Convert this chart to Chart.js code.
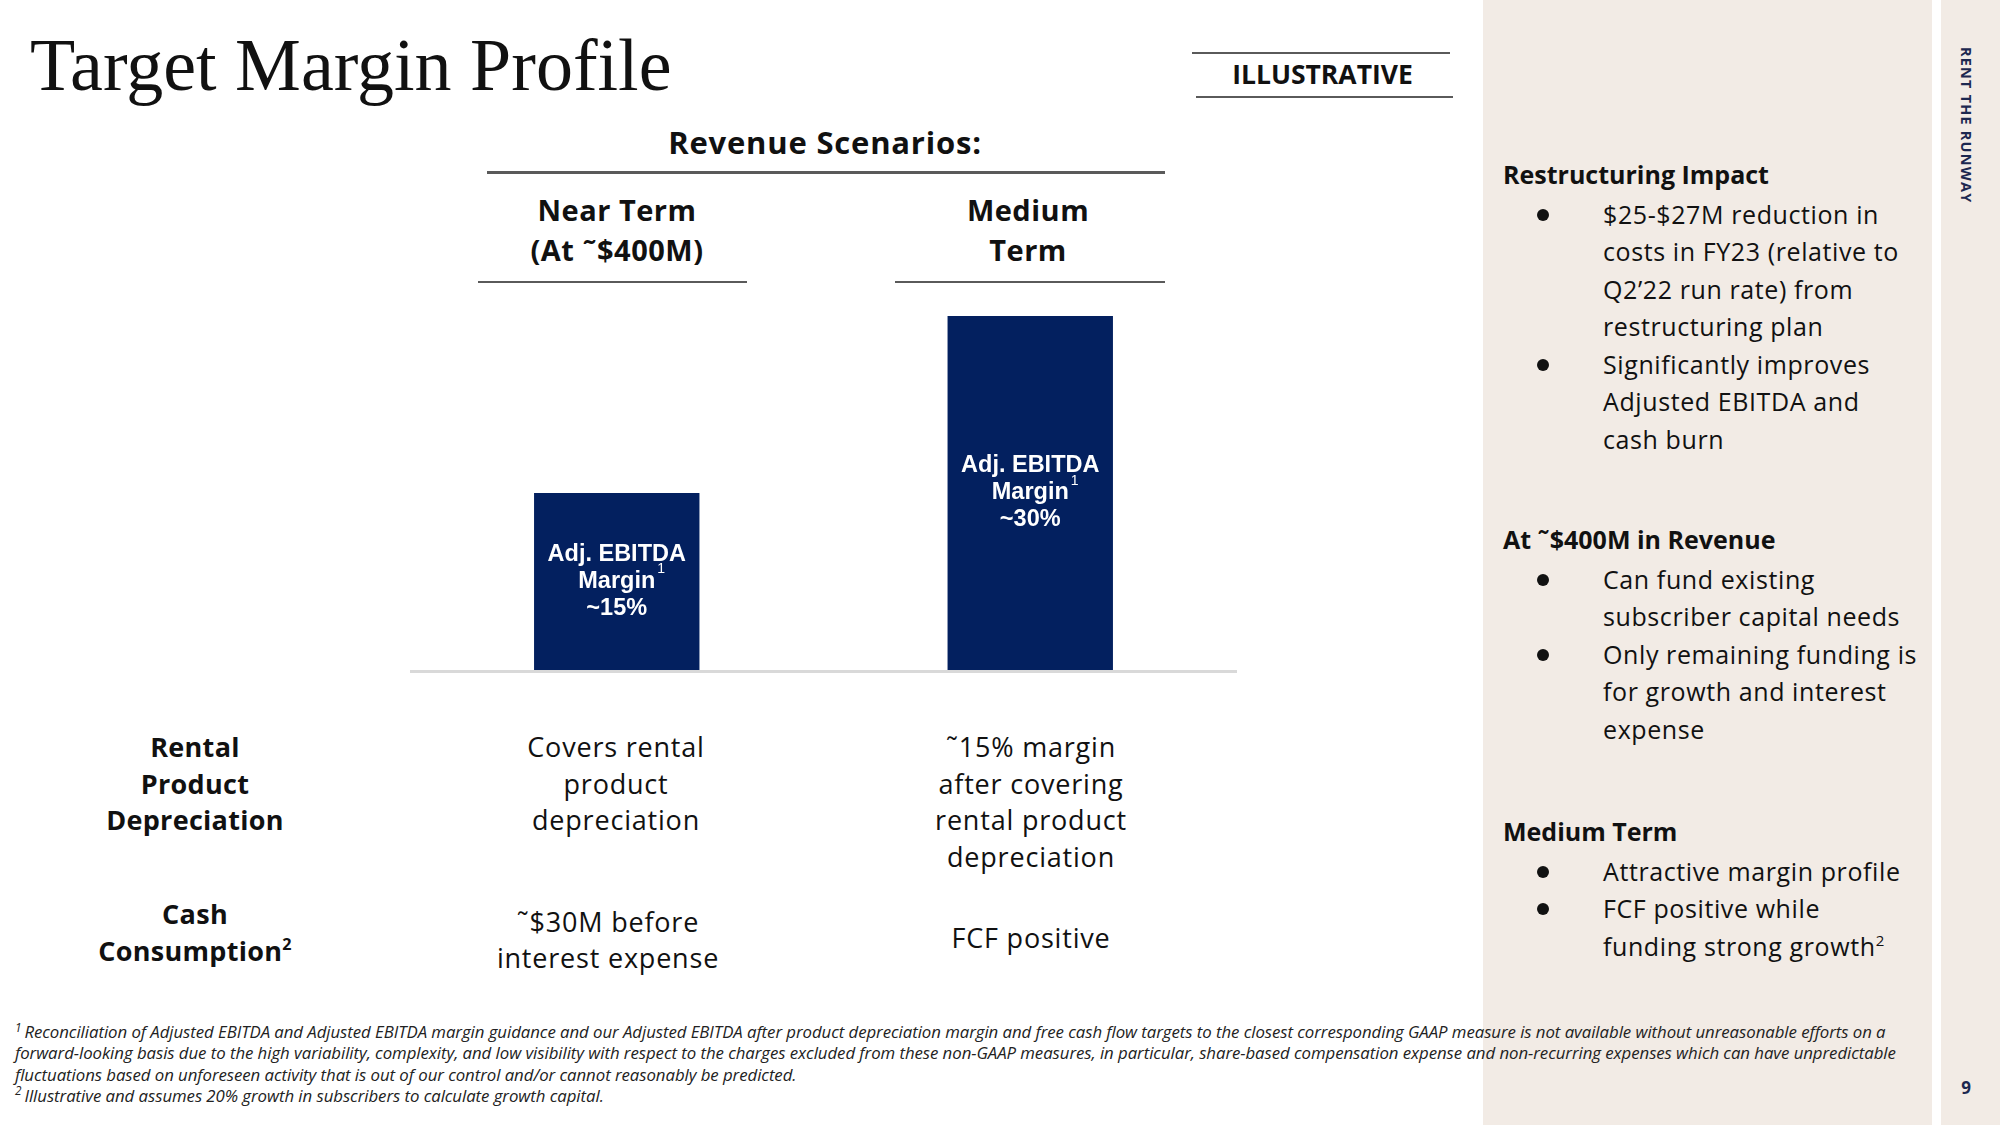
<!DOCTYPE html>
<html>
<head>
<meta charset="utf-8">
<script src="https://cdn.jsdelivr.net/npm/chart.js@4.4.1/dist/chart.umd.min.js"></script>
<style>
  html, body { margin:0; padding:0; }
  body { width:2000px; height:1125px; position:relative; background:#ffffff; overflow:hidden; font-family:"Open Sans", sans-serif; color:#111; }
  .abs { position:absolute; }
  .panel { position:absolute; top:0; height:1125px; background:#F2EBE5; }
  .rule { position:absolute; height:2px; background:#5a5a5a; }
  .title { left:30px; top:29px; font-family:"Liberation Serif", serif; font-size:74px; line-height:72px; color:#111; white-space:nowrap; }
  .hdr { font-weight:700; text-align:center; white-space:nowrap; }
  .cell { text-align:center; white-space:nowrap; font-size:27px; letter-spacing:0.8px; }
  .cell.b { font-weight:700; letter-spacing:0.3px; }
  .side { position:absolute; left:1503px; width:430px; font-size:25px; line-height:37.5px; color:#111; letter-spacing:0.6px; }
  .side h4 { margin:0 0 2px 0; font-weight:700; font-size:25px; line-height:37.5px; letter-spacing:0; }
  .side .li { position:relative; padding-left:100px; white-space:nowrap; }
  .side .li::before { content:""; position:absolute; left:34px; top:13px; width:12px; height:12px; border-radius:50%; background:#111; }
  sup { font-size:0.6em; line-height:0; vertical-align:0.7em; }
  .foot { left:15px; top:1021px; font-size:16.8px; line-height:21.3px; font-style:italic; white-space:nowrap; color:#222; z-index:3; letter-spacing:-0.05px; }
  .foot sup { font-size:0.7em; vertical-align:0.55em; margin-right:3px; }
  #chartWrap { position:absolute; left:410px; top:316px; width:827px; height:358px; }
</style>
</head>
<body>
<div class="panel" style="left:1483px; width:449px;"></div>
<div class="panel" style="left:1941px; width:59px;"></div>

<div class="abs title">Target Margin Profile</div>

<div class="abs hdr" style="left:1193px; width:259px; top:56px; font-size:26.5px; line-height:36px;">ILLUSTRATIVE</div>
<div class="rule" style="left:1192px; width:258px; top:52px;"></div>
<div class="rule" style="left:1196px; width:257px; top:96px;"></div>

<div class="abs hdr" style="left:475px; width:700px; top:123px; font-size:31px; line-height:38px; letter-spacing:0.8px;">Revenue Scenarios:</div>
<div class="rule" style="left:487px; width:678px; top:171px; height:2.5px;"></div>

<div id="colHeads"></div>

<div class="abs cell b" style="left:45px; width:300px; top:729px; line-height:36.5px;">Rental<br>Product<br>Depreciation</div>
<div class="abs cell b" style="left:45px; width:300px; top:895px; line-height:37px;">Cash<br>Consumption<sup>2</sup></div>

<div class="abs cell" style="left:466px; width:300px; top:729px; line-height:36.5px;">Covers rental<br>product<br>depreciation</div>
<div class="abs cell" style="left:458px; width:300px; top:904px; line-height:35.5px;">˜$30M before<br>interest expense</div>

<div class="abs cell" style="left:881px; width:300px; top:729px; line-height:36.7px;">˜15% margin<br>after covering<br>rental product<br>depreciation</div>
<div class="abs cell" style="left:881px; width:300px; top:920px; line-height:36px;">FCF positive</div>

<div class="side" style="top:156px;">
  <h4>Restructuring Impact</h4>
  <div class="li">$25-$27M reduction in<br>costs in FY23 (relative to<br>Q2’22 run rate) from<br>restructuring plan</div>
  <div class="li">Significantly improves<br>Adjusted EBITDA and<br>cash burn</div>
</div>
<div class="side" style="top:521px;">
  <h4>At ˜$400M in Revenue</h4>
  <div class="li">Can fund existing<br>subscriber capital needs</div>
  <div class="li">Only remaining funding is<br>for growth and interest<br>expense</div>
</div>
<div class="side" style="top:813px;">
  <h4>Medium Term</h4>
  <div class="li">Attractive margin profile</div>
  <div class="li">FCF positive while<br>funding strong growth<sup>2</sup></div>
</div>

<div class="abs" style="left:1957px; top:47px; writing-mode:vertical-rl; font-size:14.5px; font-weight:700; letter-spacing:1.2px; color:#1d2850; white-space:nowrap;">RENT THE RUNWAY</div>
<div class="abs" style="left:1953px; top:1076px; width:26px; text-align:center; font-size:17px; font-weight:700; color:#1d2850;">9</div>

<div class="abs foot"><sup>1</sup>Reconciliation of Adjusted EBITDA and Adjusted EBITDA margin guidance and our Adjusted EBITDA after product depreciation margin and free cash flow targets to the closest corresponding GAAP measure is not available without unreasonable efforts on a<br>forward-looking basis due to the high variability, complexity, and low visibility with respect to the charges excluded from these non-GAAP measures, in particular, share-based compensation expense and non-recurring expenses which can have unpredictable<br>fluctuations based on unforeseen activity that is out of our control and/or cannot reasonably be predicted.<br><sup>2</sup>Illustrative and assumes 20% growth in subscribers to calculate growth capital.</div>

<div id="chartWrap"><canvas id="c"></canvas></div>

<script>
// ---- data ----
const categoryLines = [["Near Term", "(At ˜$400M)"], ["Medium", "Term"]];
const categories = categoryLines.map(l => l.join(" "));
const marginValues = [15, 30];
const barLabelTop = "Adj. EBITDA";
const barLabelMid = "Margin";
const barLabelSup = "1";
const barLabelValues = ["~15%", "~30%"];
const barColor = "#03205F";

// column headers (HTML text above the chart)
const headPos = [{left:478, width:269, textCenter:617}, {left:895, width:270, textCenter:1028}];
const headWrap = document.getElementById("colHeads");
categoryLines.forEach((lines, i) => {
  const d = document.createElement("div");
  d.className = "abs hdr";
  d.style.cssText = `left:${headPos[i].textCenter - 200}px;width:400px;top:190px;font-size:29px;line-height:40px;letter-spacing:0.5px;`;
  d.innerHTML = lines.join("<br>");
  headWrap.appendChild(d);
  const r = document.createElement("div");
  r.className = "rule";
  r.style.cssText = `left:${headPos[i].left}px;width:${headPos[i].width}px;top:281px;`;
  headWrap.appendChild(r);
});

const baselinePlugin = {
  id: "baseline",
  beforeDatasetsDraw(chart) {
    const {ctx, chartArea, scales} = chart;
    const y = scales.y.getPixelForValue(0);
    ctx.save();
    ctx.strokeStyle = "#d9d9d9";
    ctx.lineWidth = 3;
    ctx.beginPath();
    ctx.moveTo(chartArea.left, y + 1.5);
    ctx.lineTo(chartArea.right, y + 1.5);
    ctx.stroke();
    ctx.restore();
  }
};

const labelPlugin = {
  id: "barLabels",
  afterDatasetsDraw(chart) {
    const {ctx} = chart;
    const meta = chart.getDatasetMeta(0);
    meta.data.forEach((bar, i) => {
      const {x, y, base} = bar.getProps(["x", "y", "base"], true);
      const cy = (y + base) / 2;
      const gap = 27;
      ctx.save();
      ctx.fillStyle = "#ffffff";
      ctx.textAlign = "center";
      ctx.textBaseline = "middle";
      ctx.font = "bold 23.5px 'Liberation Sans', Arial, sans-serif";
      ctx.fillText(barLabelTop, x, cy - gap);
      ctx.fillText(barLabelMid, x, cy);
      ctx.fillText(barLabelValues[i], x, cy + gap);
      const w = ctx.measureText(barLabelMid).width;
      ctx.font = "14px 'Liberation Sans', Arial, sans-serif";
      ctx.textAlign = "left";
      ctx.fillText(barLabelSup, x + w / 2 + 2, cy - 12);
      ctx.restore();
    });
  }
};

new Chart(document.getElementById("c"), {
  type: "bar",
  data: {
    labels: categories,
    datasets: [{
      data: marginValues,
      backgroundColor: barColor,
      borderWidth: 0,
      categoryPercentage: 1.0,
      barPercentage: 0.4
    }]
  },
  options: {
    responsive: true,
    maintainAspectRatio: false,
    animation: false,
    layout: { padding: { top: 0, bottom: 4, left: 0, right: 0 } },
    plugins: { legend: { display: false }, tooltip: { enabled: false } },
    scales: {
      x: { display: false },
      y: { display: false, min: 0, max: 30 }
    }
  },
  plugins: [baselinePlugin, labelPlugin]
});
</script>
</body>
</html>
